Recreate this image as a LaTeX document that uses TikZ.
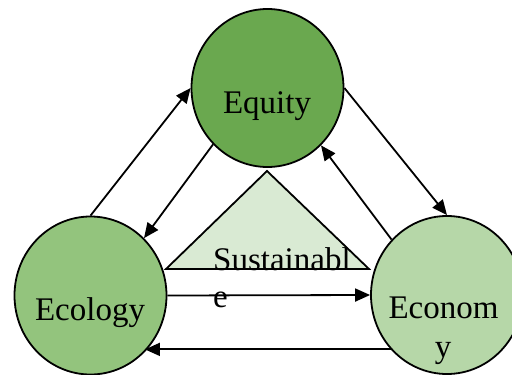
\documentclass[tikz,border=0pt]{standalone}
\usepackage{fontspec}
\setmainfont{Liberation Serif}
\usetikzlibrary{shapes.geometric,arrows.meta}
\definecolor{cEquity}{HTML}{6AA84F}
\definecolor{cEcology}{HTML}{93C47D}
\definecolor{cEconomy}{HTML}{B6D7A8}
\definecolor{cTri}{HTML}{D9EAD3}
\begin{document}
\begin{tikzpicture}[x=1pt,y=-1pt,
  blob/.style={ellipse,draw=black,line width=1.8pt,minimum width=152pt,minimum height=158pt,inner sep=0pt},
  arr/.style={line width=1.8pt,-{Triangle[length=15pt,width=13pt]}},
  lbl/.style={anchor=base,inner sep=0pt,font=\fontsize{33}{37}\selectfont}]
\useasboundingbox (0,0) rectangle (512,375);
\draw[line width=1.8pt,fill=cTri] (267,171) -- (369,269) -- (166,269) -- cycle;
\node[blob,fill=cEquity] (eq) at (267.5,88) {};
\node[blob,fill=cEcology] (eco) at (90.5,295.5) {};
\node[blob,fill=cEconomy] (econ) at (447,295) {};
\draw[arr] (eco.north) -- (eq.west);
\draw[arr] (eq.226.3) -- (eco.47.1);
\draw[arr] (eq.east) -- (econ.north);
\draw[arr] (econ.135.5) -- (eq.313.2);
\draw[arr] (eco.east) -- (econ.west);
\draw[arr] (econ.224.5) -- (econ.224.5 -| eco.314.5);
\node[lbl] (teq) at (267,113) {Equity};
\node[lbl] (teco) at (90,320) {Ecology};
\node[lbl] (tecon1) at (443.5,318) {Econom};
\node[lbl] (tecon2) at (443,357) {y};
\node[lbl,anchor=base west] (ts1) at (213,270) {Sustainabl};
\node[lbl,anchor=base west] (ts2) at (213,307) {e};
\end{tikzpicture}
\end{document}
